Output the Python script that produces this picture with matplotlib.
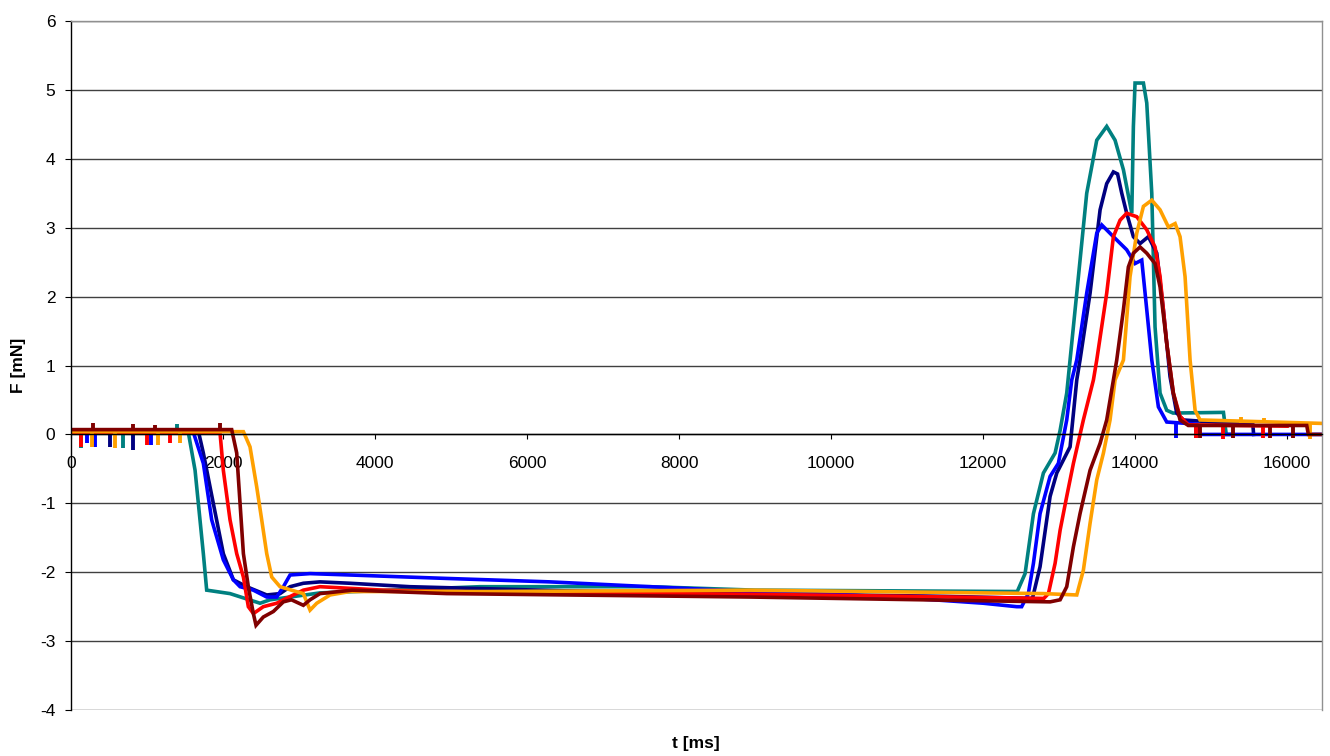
import matplotlib
matplotlib.use('Agg')
import matplotlib.pyplot as plt

plt.rcParams['font.family'] = ['Liberation Sans', 'DejaVu Sans']
plt.rcParams['axes.unicode_minus'] = False

# series: time [ms] and force [mN]
teal_t = [0, 1540, 1632, 1741, 1785, 2092, 2487, 2618, 3276, 5380, 7620, 9000, 12450,
          12553, 12663, 12794, 12948, 13014, 13101, 13233, 13364, 13496, 13627, 13737,
          13847, 13957, 13978, 14000, 14110, 14154, 14220, 14263, 14329, 14417, 14500,
          15163, 15200, 15250]
teal_f = [0.05, 0.05, -0.52, -1.73, -2.26, -2.31, -2.45, -2.40, -2.30, -2.21, -2.21, -2.26, -2.28,
          -2.02, -1.15, -0.56, -0.27, 0.06, 0.60, 2.05, 3.50, 4.27, 4.47, 4.27,
          3.84, 3.21, 4.47, 5.10, 5.10, 4.81, 3.50, 1.56, 0.60, 0.35, 0.31,
          0.32, 0.0, 0.0]

navy_t = [0, 1675, 1741, 1872, 2004, 2136, 2311, 2575, 2750, 2882, 3057, 3276, 3671, 4460,
          6500, 9000, 11500, 12650, 12750, 12882, 12970, 13145, 13233, 13276, 13408, 13540,
          13627, 13715, 13770, 13825, 13890, 13978, 14066, 14175, 14286, 14373, 14460, 14548,
          14636, 15550, 15560]
navy_f = [0.05, 0.05, -0.27, -1.00, -1.73, -2.11, -2.21, -2.33, -2.31, -2.21, -2.16, -2.14, -2.16, -2.21,
          -2.27, -2.31, -2.35, -2.38, -1.92, -0.90, -0.56, -0.18, 0.79, 1.08, 2.05, 3.26,
          3.64, 3.81, 3.78, 3.50, 3.21, 2.87, 2.77, 2.87, 2.63, 1.81, 0.84, 0.31,
          0.21, 0.14, 0.0]

blue_t = [0, 1610, 1741, 1851, 2004, 2136, 2224, 2399, 2575, 2706, 2794, 2882, 3145, 3671,
          4943, 6303, 7619, 8934, 10250, 11346, 12004, 12443, 12508, 12596, 12663, 12750,
          12882, 12991, 13101, 13167, 13233, 13364, 13496, 13562, 13715, 13890, 14000, 14088,
          14154, 14220, 14307, 14417, 14812, 14830, 16460]
blue_f = [0.03, 0.03, -0.42, -1.24, -1.82, -2.11, -2.21, -2.26, -2.36, -2.36, -2.21, -2.04, -2.02, -2.04,
          -2.09, -2.14, -2.21, -2.28, -2.33, -2.40, -2.45, -2.50, -2.50, -2.31, -1.87, -1.15,
          -0.61, -0.42, 0.21, 0.79, 1.08, 2.05, 2.92, 3.04, 2.87, 2.68, 2.48, 2.53,
          1.81, 1.08, 0.40, 0.18, 0.15, 0.0, 0.0]

red_t = [0, 1960, 2004, 2092, 2180, 2268, 2333, 2400, 2530, 2706, 2794, 3057, 3276, 4108,
         5000, 7619, 9000, 11000, 12800, 12860, 12948, 13014, 13101, 13189, 13320, 13452,
         13496, 13627, 13715, 13803, 13890, 14022, 14154, 14263, 14329, 14417, 14504, 14592,
         14700, 16000]
red_f = [0.03, 0.03, -0.52, -1.24, -1.73, -2.07, -2.50, -2.60, -2.50, -2.45, -2.40, -2.26, -2.21, -2.26,
         -2.28, -2.31, -2.32, -2.35, -2.38, -2.31, -1.87, -1.39, -0.90, -0.42, 0.21, 0.79,
         1.08, 2.05, 2.87, 3.11, 3.21, 3.16, 2.97, 2.72, 2.29, 1.32, 0.60, 0.26,
         0.14, 0.12]

orange_t = [0, 2268, 2355, 2443, 2509, 2575, 2641, 2750, 2900, 3057, 3145, 3233, 3408, 3671,
            5500, 8934, 12794, 13233, 13320, 13408, 13496, 13584, 13671, 13737, 13847, 13934,
            14022, 14110, 14220, 14329, 14439, 14527, 14592, 14658, 14724, 14790, 14855, 16460]
orange_f = [0.04, 0.04, -0.18, -0.76, -1.24, -1.73, -2.07, -2.21, -2.26, -2.31, -2.55, -2.45, -2.33, -2.28,
            -2.28, -2.26, -2.31, -2.33, -1.97, -1.29, -0.66, -0.27, 0.21, 0.79, 1.08, 2.29,
            2.92, 3.31, 3.40, 3.26, 3.01, 3.06, 2.87, 2.29, 1.08, 0.35, 0.21, 0.16]

dred_t = [0, 2114, 2180, 2224, 2268, 2333, 2399, 2434, 2530, 2662, 2794, 2900, 3057, 3145,
          3276, 3700, 4943, 8934, 12882, 13014, 13101, 13189, 13276, 13408, 13540, 13627,
          13715, 13759, 13847, 13912, 13978, 14066, 14154, 14263, 14329, 14417, 14504, 14592,
          14700, 16259, 16280, 16460]
dred_f = [0.07, 0.07, -0.27, -1.00, -1.73, -2.21, -2.60, -2.77, -2.65, -2.57, -2.43, -2.40, -2.48, -2.40,
          -2.31, -2.26, -2.31, -2.36, -2.43, -2.40, -2.21, -1.63, -1.15, -0.52, -0.13, 0.21,
          0.79, 1.08, 1.81, 2.43, 2.63, 2.72, 2.63, 2.48, 2.14, 1.32, 0.60, 0.21,
          0.13, 0.13, 0.0, 0.0]

# short noise spikes: time, base level, tip level
teal_sp = ([130, 690, 1390], [0.05, 0.05, 0.05], [-0.20, -0.20, 0.15])
navy_sp = ([513, 816], [0.05, 0.05], [-0.18, -0.23])
blue_sp = ([206, 316, 1050, 14540, 14800], [0.03, 0.03, 0.03, 0.15, 0.15], [-0.13, -0.18, -0.15, -0.05, -0.05])
red_sp = ([130, 996, 1303, 14800, 15160, 15690], [0.03, 0.03, 0.03, 0.14, 0.13, 0.12],
          [-0.18, -0.15, -0.13, -0.05, -0.06, -0.05])
orange_sp = ([272, 579, 1149, 1434, 15400, 15700, 16300], [0.04, 0.04, 0.04, 0.04, 0.16, 0.16, 0.16],
             [-0.18, -0.20, -0.16, -0.12, 0.25, 0.24, -0.07])
dred_sp = ([290, 816, 1100, 1960, 14855, 15290, 15776, 16080], [0.07, 0.07, 0.07, 0.07, 0.13, 0.13, 0.13, 0.13],
           [0.17, 0.15, 0.14, 0.17, -0.05, -0.05, -0.05, -0.05])

series = [
    (teal_t, teal_f, teal_sp, '#008080'),
    (navy_t, navy_f, navy_sp, '#000080'),
    (blue_t, blue_f, blue_sp, '#0000FF'),
    (red_t, red_f, red_sp, '#FF0000'),
    (orange_t, orange_f, orange_sp, '#FFA000'),
    (dred_t, dred_f, dred_sp, '#800000'),
]

fig = plt.figure(figsize=(13.3, 7.56), dpi=100)
ax = fig.add_axes([0.0534, 0.0608, 0.9406, 0.9114])

for t, f, sp, c in series:
    ax.plot(t, f, color=c, lw=2.6, solid_joinstyle='miter')
    ax.vlines(sp[0], sp[1], sp[2], color=c, lw=2.8)

ax.set_xlim(0, 16460)
ax.set_ylim(-4, 6)
ax.set_yticks(range(-4, 7))
ax.set_xticks(range(0, 16001, 2000))

ax.yaxis.grid(True, color='#404040', lw=1.0)
ax.set_axisbelow(True)

ax.spines['bottom'].set_position(('data', 0))
ax.spines['bottom'].set_color('black')
ax.spines['left'].set_color('black')
ax.spines['top'].set_color('#909090')
ax.spines['right'].set_color('#909090')
for s in ax.spines.values():
    s.set_linewidth(1.0)

ax.tick_params(axis='x', direction='out', length=3.6, pad=12, labelsize=12.5)
ax.tick_params(axis='y', direction='out', length=4.3, pad=7, labelsize=12.5)

fig.text(0.523, 0.017, 't [ms]', ha='center', va='center', fontsize=12.5, fontweight='bold')
fig.text(0.014, 0.517, 'F [mN]', ha='center', va='center', rotation=90, fontsize=12.5, fontweight='bold')

fig.savefig('out.png', dpi=100)
